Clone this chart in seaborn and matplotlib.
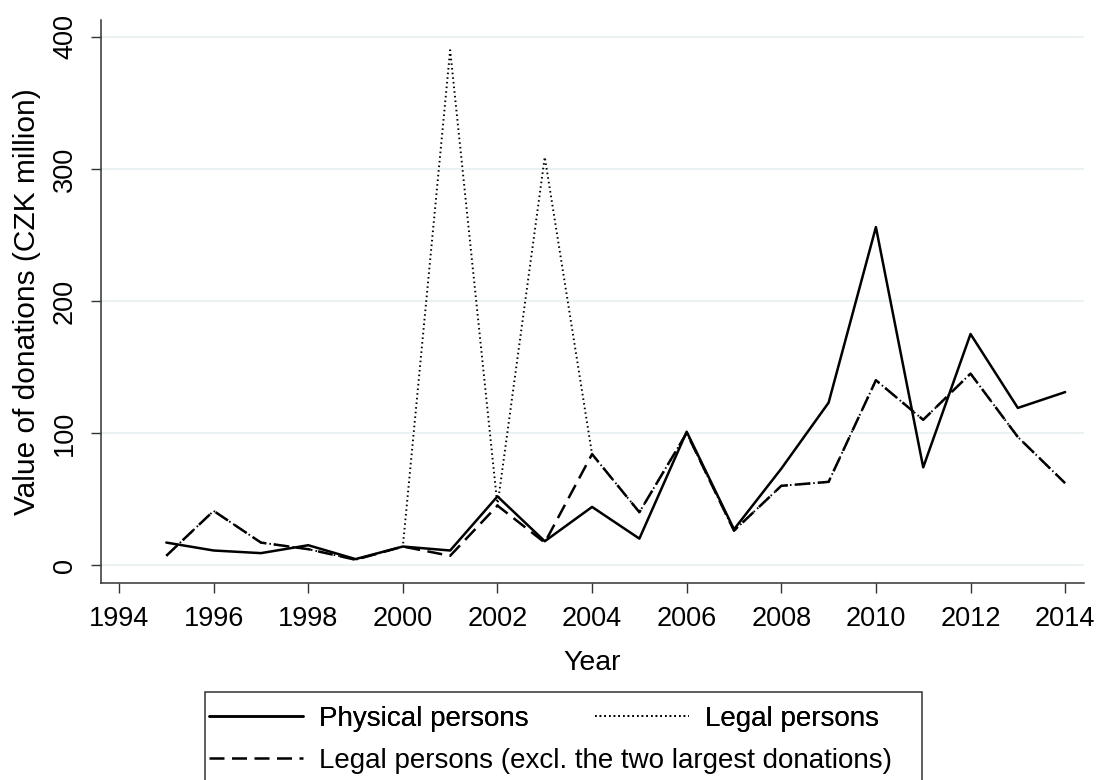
#!/usr/bin/env python
"""
Value of donations by year: physical vs legal persons
"""
import pandas as pd
import matplotlib
matplotlib.use('Agg')
import matplotlib.pyplot as plt
from matplotlib.patches import Rectangle
import seaborn as sns

# Datos (millones CZK)
years = list(range(1995, 2015))
physical = [17, 11, 9, 15, 4.5, 14, 11, 52, 18, 44, 20, 101, 27, 73, 123, 256, 74, 175, 119, 131]
legal_excl = [7, 41, 17, 12, 4, 14, 7, 45, 17, 84, 40, 100, 26, 60, 63, 140, 110, 145, 97, 62]
legal = [7, 41, 17, 12, 4, 14, 390, 45, 309, 84, 40, 100, 26, 60, 63, 140, 110, 145, 97, 62]

lab_phys = 'Physical persons'
lab_legal = 'Legal persons'
lab_excl = 'Legal persons (excl. the two largest donations)'

df = pd.concat([
    pd.DataFrame({'Year': years, 'value': legal, 'serie': lab_legal}),
    pd.DataFrame({'Year': years, 'value': legal_excl, 'serie': lab_excl}),
    pd.DataFrame({'Year': years, 'value': physical, 'serie': lab_phys}),
])

sns.set_style('white')
plt.rcParams['font.family'] = ['Liberation Sans', 'DejaVu Sans']
plt.rcParams['text.color'] = 'black'
plt.rcParams['axes.labelcolor'] = 'black'
plt.rcParams['xtick.color'] = 'black'
plt.rcParams['ytick.color'] = 'black'

fig = plt.figure(figsize=(10.97, 7.80), dpi=100)
ax = fig.add_axes([0.0921, 0.2526, 0.8961, 0.7218])

dashes = {lab_phys: '', lab_legal: (0.8, 1.6), lab_excl: (6, 3)}
widths = {lab_phys: 1.8, lab_legal: 1.4, lab_excl: 1.8}
sns.lineplot(data=df, x='Year', y='value', hue='serie', style='serie',
             palette=['black'] * 3, dashes=dashes, ax=ax, legend=True)
for line, lab in zip(ax.get_lines(), [lab_legal, lab_excl, lab_phys]):
    line.set_linewidth(widths[lab])

handles, labels = ax.get_legend_handles_labels()
h = dict(zip(labels, handles))
for lab, hd in h.items():
    hd.set_linewidth(widths[lab])
ax.get_legend().remove()

ax.set_xlim(1993.62, 2014.4)
ax.set_ylim(-13.6, 412.9)
ax.set_xticks(range(1994, 2015, 2))
ax.set_yticks([0, 100, 200, 300, 400])
ax.yaxis.grid(True, color='#EAF2F3', linewidth=1.5)
ax.xaxis.grid(False)
sns.despine(ax=ax)
for s in ['left', 'bottom']:
    ax.spines[s].set_color('#333333')
    ax.spines[s].set_linewidth(1.1)

ax.tick_params(axis='both', which='major', direction='out', length=7.5,
               width=1.0, color='#333333', labelsize=19.5, left=True, bottom=True)
ax.tick_params(axis='x', pad=9)
ax.tick_params(axis='y', pad=9)
for t in ax.get_yticklabels():
    t.set_rotation(90)
    t.set_va('center')

ax.set_xlabel('Year', fontsize=20.5, labelpad=13)
ax.set_ylabel('Value of donations (CZK million)', fontsize=21.5, labelpad=8)

# Leyenda estilo Stata: dos filas dentro de un marco
leg_kw = dict(loc='upper left', frameon=False, fontsize=20, handlelength=3.4,
              handletextpad=0.55, borderpad=0, borderaxespad=0)
leg1 = fig.legend([h[lab_phys], h[lab_legal]], [lab_phys, lab_legal], ncol=2,
                  bbox_to_anchor=(209 / 1097, 1 - 706 / 780), columnspacing=2.4, **leg_kw)
leg2 = fig.legend([h[lab_excl]], [lab_excl],
                  bbox_to_anchor=(209 / 1097, 1 - 748 / 780), **leg_kw)
fig.add_artist(leg1)
fig.patches.append(Rectangle((205 / 1097, -0.05), (922 - 205) / 1097, 1 - 692 / 780 + 0.05,
                             transform=fig.transFigure, fill=False,
                             edgecolor='#333333', linewidth=1.1))

fig.savefig('out.png', dpi=100)
